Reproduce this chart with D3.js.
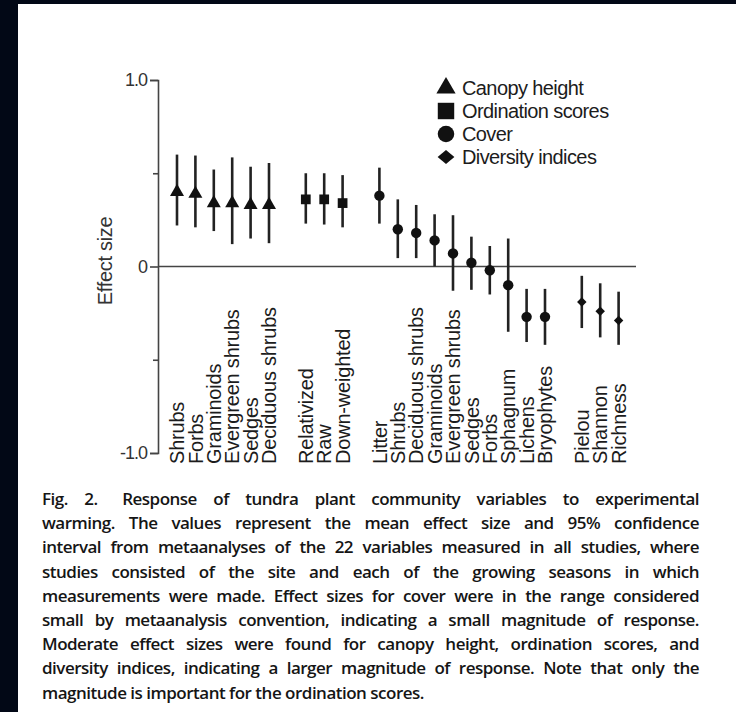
<!DOCTYPE html>
<html>
<head>
<meta charset="utf-8">
<script src="https://cdn.jsdelivr.net/npm/d3@7"></script>
<style>
  html, body { margin: 0; overflow: hidden; background: #fff; }
  svg { display: block; }
</style>
</head>
<body>
<svg id="chart" width="736" height="712"></svg>
<script>
// variables, left to right, as in the figure
var labels = ['Shrubs', 'Forbs', 'Graminoids', 'Evergreen shrubs', 'Sedges', 'Deciduous shrubs',
    'Relativized', 'Raw', 'Down-weighted',
    'Litter', 'Shrubs', 'Deciduous shrubs', 'Graminoids', 'Evergreen shrubs', 'Sedges', 'Forbs',
    'Sphagnum', 'Lichens', 'Bryophytes',
    'Pielou', 'Shannon', 'Richness']

// 0 canopy height, 1 ordination scores, 2 cover, 3 diversity indices
var groups = [0, 0, 0, 0, 0, 0, 1, 1, 1, 2, 2, 2, 2, 2, 2, 2, 2, 2, 2, 3, 3, 3]

// mean effect size and 95% CI
var means = [0.40, 0.39, 0.34, 0.34, 0.33, 0.33, 0.36, 0.36, 0.34,
    0.38, 0.20, 0.18, 0.14, 0.07, 0.02, -0.02, -0.10, -0.27, -0.27,
    -0.19, -0.24, -0.29]
var lower = [0.22, 0.21, 0.19, 0.12, 0.15, 0.125, 0.23, 0.225, 0.21,
    0.23, 0.045, 0.045, 0.0, -0.13, -0.125, -0.15, -0.35, -0.405, -0.42,
    -0.33, -0.38, -0.42]
var upper = [0.60, 0.595, 0.52, 0.585, 0.535, 0.555, 0.50, 0.50, 0.49,
    0.53, 0.36, 0.33, 0.28, 0.275, 0.16, 0.11, 0.15, -0.12, -0.12,
    -0.05, -0.09, -0.135]

var yTicks = [-1, -0.5, 0, 0.5, 1]
var yTickLabels = ['-1.0', '', '0', '', '1.0']
var legendNames = ['Canopy height', 'Ordination scores', 'Cover', 'Diversity indices']

var captionLines = [
    'Fig. 2.\u2003\u2002Response of tundra plant community variables to experimental',
    'warming. The values represent the mean effect size and 95% confidence',
    'interval from metaanalyses of the 22 variables measured in all studies, where',
    'studies consisted of the site and each of the growing seasons in which',
    'measurements were made. Effect sizes for cover were in the range considered',
    'small by metaanalysis convention, indicating a small magnitude of response.',
    'Moderate effect sizes were found for canopy height, ordination scores, and',
    'diversity indices, indicating a larger magnitude of response. Note that only the',
    'magnitude is important for the ordination scores.'
]

var svg = d3.select('#chart')

// dark frame round the scanned page
svg.append('rect').attr('x', 0).attr('y', 0).attr('width', 736).attr('height', 4).attr('fill', '#020816')
svg.append('rect').attr('x', 0).attr('y', 0).attr('width', 18).attr('height', 712).attr('fill', '#020816')

var ink = '#1c1c1c'

// slot index: one empty slot between groups
var slots = labels.map(function (d, i) { return i + groups[i] })

var x = d3.scaleLinear().domain([0, 24]).range([177, 618.6])
var y = d3.scaleLinear().domain([-1, 1]).range([453, 80])

// y axis
var axis = svg.append('g')
    .attr('transform', 'translate(158,0)')
    .call(d3.axisLeft(y)
        .tickValues(yTicks)
        .tickSize(8)
        .tickPadding(3)
        .tickFormat(function (d, i) { return yTickLabels[i] }))
axis.select('.domain').attr('stroke', '#444').attr('stroke-width', 1.6)
axis.selectAll('.tick line').attr('stroke', '#444').attr('stroke-width', 1.6)
    .attr('x2', function (d, i) { return yTickLabels[i] ? -8 : -5 })
axis.selectAll('.tick text')
    .attr('fill', '#333')
    .style('font-family', 'Liberation Sans, Arial, sans-serif')
    .style('font-size', '18px')
    .style('letter-spacing', '-1px')

svg.append('text')
    .attr('transform', 'translate(112,261) rotate(-90)')
    .attr('text-anchor', 'middle')
    .attr('fill', '#333')
    .style('font-family', 'Liberation Sans, Arial, sans-serif')
    .style('font-size', '20px')
    .style('letter-spacing', '-0.3px')
    .text('Effect size')

// zero line
svg.append('line')
    .attr('x1', 158).attr('x2', 636)
    .attr('y1', y(0)).attr('y2', y(0))
    .attr('stroke', '#444').attr('stroke-width', 1.6)

// error bars
var pts = svg.append('g').selectAll('g')
    .data(labels)
    .enter().append('g')

pts.append('line')
    .attr('x1', function (d, i) { return x(slots[i]) })
    .attr('x2', function (d, i) { return x(slots[i]) })
    .attr('y1', function (d, i) { return y(lower[i]) })
    .attr('y2', function (d, i) { return y(upper[i]) })
    .attr('stroke', '#222')
    .attr('stroke-width', 2.6)

var shapes = [d3.symbolTriangle, d3.symbolSquare, d3.symbolCircle, d3.symbolSquare]
var plotSizes = [85, 95, 85, 45]
var legendSizes = [160, 270, 215, 140]

function marker(g, size) {
    return d3.symbol().type(shapes[g]).size(size)()
}
function rot(g) { return g === 3 ? ' rotate(45)' : '' }

pts.append('path')
    .attr('d', function (d, i) { return marker(groups[i], plotSizes[groups[i]]) })
    .attr('transform', function (d, i) {
        return 'translate(' + x(slots[i]) + ',' + y(means[i]) + ')' + rot(groups[i])
    })
    .attr('fill', '#111')

// category labels, rotated
svg.append('g').selectAll('text')
    .data(labels)
    .enter().append('text')
    .attr('transform', function (d, i) { return 'translate(' + x(slots[i]) + ',464) rotate(-90)' })
    .attr('dy', '0.36em')
    .attr('fill', ink)
    .style('font-family', 'Liberation Sans, Arial, sans-serif')
    .style('font-size', '20px')
    .style('letter-spacing', '-0.2px')
    .text(function (d) { return d })

// legend
var leg = svg.append('g').selectAll('g')
    .data(legendNames)
    .enter().append('g')
    .attr('transform', function (d, i) { return 'translate(446,' + (88 + i * 23) + ')' })

leg.append('path')
    .attr('d', function (d, i) { return marker(i, legendSizes[i]) })
    .attr('transform', function (d, i) { return i === 3 ? 'scale(1,0.85) rotate(45)' : '' })
    .attr('fill', '#111')

leg.append('text')
    .attr('x', 16)
    .attr('dy', '0.36em')
    .attr('fill', ink)
    .style('font-family', 'Liberation Sans, Arial, sans-serif')
    .style('font-size', '20px')
    .style('letter-spacing', '-0.6px')
    .text(function (d) { return d })

// caption, justified line by line
var capLeft = 42, capWidth = 657
var cap = svg.append('g').selectAll('text')
    .data(captionLines)
    .enter().append('text')
    .attr('x', capLeft)
    .attr('y', function (d, i) { return 505 + i * 24.2 })
    .attr('fill', '#151515')
    .style('font-family', 'Open Sans, Noto Sans, sans-serif')
    .style('font-size', '17px')
    .style('font-weight', 600)
    .style('letter-spacing', '-0.5px')
    .text(function (d) { return d })

cap.each(function (d, i) {
    if (i === captionLines.length - 1) return
    var w = this.getComputedTextLength()
    var gaps = d.split(' ').length - 1
    d3.select(this).style('word-spacing', ((capWidth - w) / gaps) + 'px')
})
</script>
</body>
</html>
